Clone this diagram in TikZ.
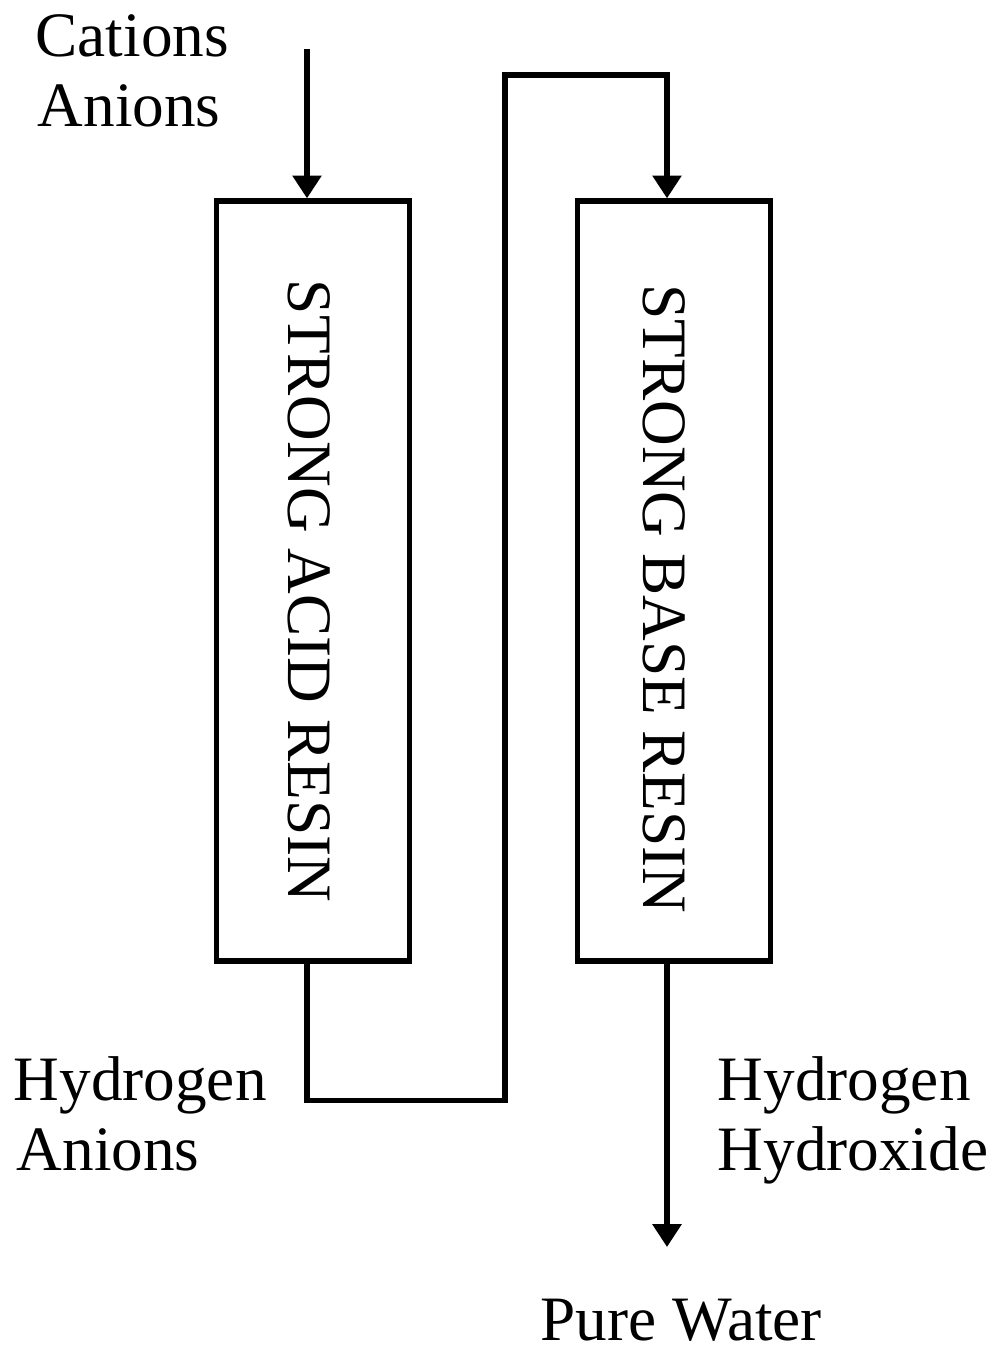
\documentclass[tikz,border=0pt]{standalone}
\usepackage{fontspec}
\setmainfont{Liberation Serif}
\usetikzlibrary{arrows.meta}
\begin{document}
\begin{tikzpicture}[x=0.02cm,y=-0.02cm,
  line width=3.1pt, line join=miter,
  flow/.style={-{Triangle[width=16pt,length=13pt]}},
  column/.style={draw, rectangle, minimum width=3.86cm, minimum height=15.2cm, inner sep=0pt},
  lbl/.style={anchor=base west, inner sep=0pt, font=\fontsize{36}{40}\selectfont},
  vlbl/.style={rotate=-90, anchor=center, inner sep=0pt, font=\fontsize{36}{40}\selectfont}]
\useasboundingbox (0,0) rectangle (997,1351);
% columns
\node[column] (acid) at (313,581) {};
\node[column] (base) at (674,581) {};
\node[vlbl] (acidtxt) at (309,591) {STRONG ACID RESIN};
\node[vlbl] (basetxt) at (664,599) {STRONG BASE RESIN};
% labels
\node[lbl] (cat) at (33,57) {Cations};
\node[lbl] (an1) at (35,127) {Anions};
\node[lbl] (hy1) at (11,1100) {Hydrogen};
\node[lbl] (an2) at (14,1170) {Anions};
\node[lbl] (hy2) at (715,1100) {Hydrogen};
\node[lbl] (hox) at (715,1170) {Hydroxide};
\node[lbl] (pw) at (538,1340) {Pure Water};
% connectors
\coordinate (inTop) at (307,49);
\coordinate (j1) at (505,1100.5);
\coordinate (j2) at (667,75);
\coordinate (outEnd) at (667,1247);
\draw[flow] (inTop) -- (inTop |- acid.north);
\draw[flow] (acid.south -| inTop) |- (j1) |- (j2) -- (j2 |- base.north);
\draw[flow] (base.south -| j2) -- (outEnd);
\end{tikzpicture}
\end{document}
